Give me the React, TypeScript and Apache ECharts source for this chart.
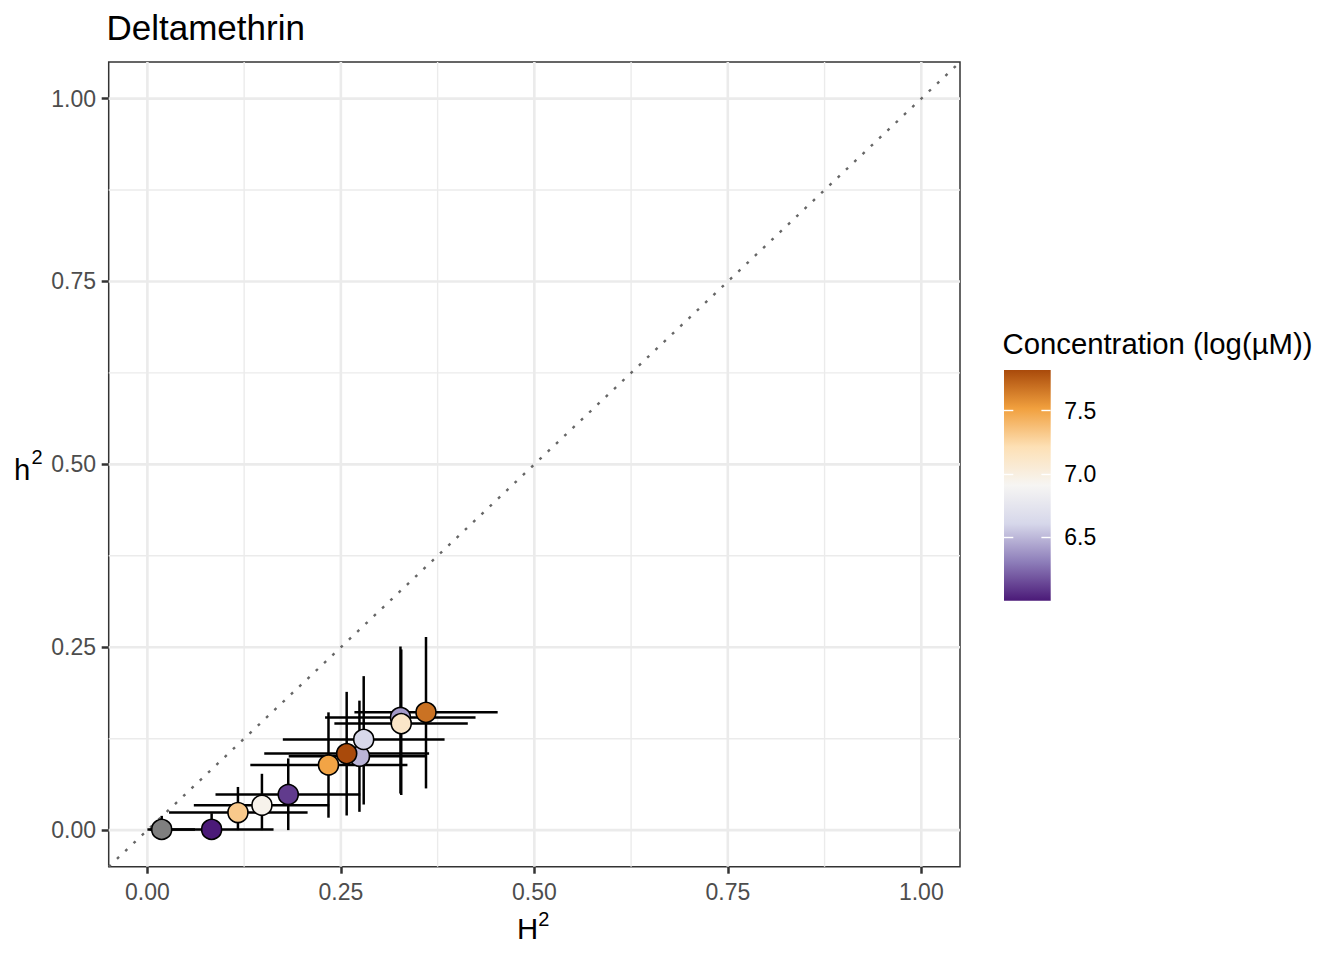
import React, { useEffect, useRef } from "react";
import * as echarts from "echarts";

// ---- data ----
const H2 = [0.0185, 0.083, 0.117, 0.148, 0.182, 0.234, 0.274, 0.2795, 0.2575, 0.327, 0.328, 0.36];
const h2 = [0.001, 0.001, 0.024, 0.034, 0.0487, 0.089, 0.101, 0.124, 0.1046, 0.154, 0.1456, 0.161];
const H2_LO = [0, 0.003, 0.028, 0.06, 0.088, 0.133, 0.1826, 0.175, 0.151, 0.2296, 0.2416, 0.2675];
const H2_HI = [0.0615, 0.163, 0.207, 0.235, 0.275, 0.336, 0.36, 0.384, 0.364, 0.424, 0.414, 0.4526];
const h2_LO = [0, 0, 0, 0, 0, 0.017, 0.025, 0.035, 0.02, 0.05, 0.048, 0.057];
const h2_HI = [0.0195, 0.023, 0.059, 0.077, 0.098, 0.161, 0.177, 0.2105, 0.189, 0.251, 0.247, 0.264];
const CONC: (number | null)[] = [null, 6.0, 7.32, 6.95, 6.1, 7.5, 6.49, 6.62, 7.82, 6.4, 7.12, 7.68];

const AXIS_TICKS = [0, 0.25, 0.5, 0.75, 1];
const MINOR_GRID = [0.125, 0.375, 0.625, 0.875];
const AXIS_MIN = -0.05;
const AXIS_MAX = 1.05;

const CONC_MIN = 6.0;
const CONC_MAX = 7.82;
const LEGEND_TICKS = [6.5, 7.0, 7.5];
const PALETTE = ["#4b1a78", "#8d7db9", "#d6d7ea", "#f6f5f3", "#fde0b5", "#f1a03e", "#a94a0b"];
const NA_COLOR = "#7f7f7f";

const FONT = "'Liberation Sans', Arial, Helvetica, sans-serif";

export default function App() {
  const ref = useRef<HTMLDivElement>(null);

  useEffect(() => {
    if (!ref.current) return;
    const chart = echarts.init(ref.current, null, { renderer: "svg", width: 1344, height: 960 });

    const gridData = [
      ...AXIS_TICKS.map((v) => [v, 0, 1, 1]),
      ...MINOR_GRID.map((v) => [v, 0, 0, 1]),
      ...AXIS_TICKS.map((v) => [0, v, 1, 0]),
      ...MINOR_GRID.map((v) => [0, v, 0, 0]),
    ];

    const errData = H2.map((x, i) => [x, h2[i], H2_LO[i], H2_HI[i], h2_LO[i], h2_HI[i]]);
    const ptsData: number[][] = [];
    const naData: number[][] = [];
    H2.forEach((x, i) => {
      if (CONC[i] == null) naData.push([x, h2[i]]);
      else ptsData.push([x, h2[i], CONC[i] as number]);
    });

    const stops = PALETTE.map((c, i) => ({ offset: 1 - i / (PALETTE.length - 1), color: c })).sort(
      (a, b) => a.offset - b.offset
    );

    const tickLabelStyle = { color: "#4d4d4d", fontSize: 23, fontFamily: FONT };

    const option: any = {
      animation: false,
      backgroundColor: "#ffffff",
      grid: [
        {
          left: 108.7,
          top: 62,
          width: 851.3,
          height: 804.7,
          show: true,
          borderColor: "#333333",
          borderWidth: 1.5,
          backgroundColor: "#ffffff",
        },
        { left: 1004, top: 370, width: 46.7, height: 230.7 },
      ],
      xAxis: [
        {
          type: "value",
          gridIndex: 0,
          position: "bottom",
          min: AXIS_MIN,
          max: AXIS_MAX,
          axisLine: { show: false, onZero: false },
          splitLine: { show: false },
          axisTick: { show: true, length: 7, customValues: AXIS_TICKS, lineStyle: { color: "#333333", width: 2.5 } },
          axisLabel: {
            customValues: AXIS_TICKS,
            formatter: (v: number) => v.toFixed(2),
            margin: 13.3,
            ...tickLabelStyle,
          },
        },
        { type: "value", gridIndex: 1, min: 0, max: 1, show: false },
      ],
      yAxis: [
        {
          type: "value",
          gridIndex: 0,
          position: "left",
          min: AXIS_MIN,
          max: AXIS_MAX,
          axisLine: { show: false, onZero: false },
          splitLine: { show: false },
          axisTick: { show: true, length: 7, customValues: AXIS_TICKS, lineStyle: { color: "#333333", width: 2.5 } },
          axisLabel: {
            customValues: AXIS_TICKS,
            formatter: (v: number) => v.toFixed(2),
            margin: 12.7,
            ...tickLabelStyle,
          },
        },
        {
          type: "value",
          gridIndex: 1,
          position: "right",
          min: CONC_MIN,
          max: CONC_MAX,
          z: 10,
          axisLine: { show: false, onZero: false },
          splitLine: { show: false },
          axisTick: {
            show: true,
            inside: true,
            length: 9.3,
            customValues: LEGEND_TICKS,
            lineStyle: { color: "#ffffff", width: 1.4 },
          },
          axisLabel: {
            customValues: LEGEND_TICKS,
            formatter: (v: number) => v.toFixed(1),
            margin: 13.6,
            color: "#000000",
            fontSize: 23,
            fontFamily: FONT,
          },
        },
        {
          type: "value",
          gridIndex: 1,
          position: "left",
          min: CONC_MIN,
          max: CONC_MAX,
          z: 10,
          axisLine: { show: false, onZero: false },
          splitLine: { show: false },
          axisLabel: { show: false },
          axisTick: {
            show: true,
            inside: true,
            length: 9.3,
            customValues: LEGEND_TICKS,
            lineStyle: { color: "#ffffff", width: 1.4 },
          },
        },
      ],
      visualMap: {
        type: "continuous",
        show: false,
        min: CONC_MIN,
        max: CONC_MAX,
        dimension: 2,
        seriesIndex: 3,
        inRange: { color: PALETTE },
      },
      series: [
        {
          type: "custom",
          xAxisIndex: 0,
          yAxisIndex: 0,
          z: 1,
          silent: true,
          data: gridData,
          renderItem: (params: any, api: any) => {
            const vx = api.value(0);
            const vy = api.value(1);
            const major = api.value(2) === 1;
            const vertical = api.value(3) === 1;
            const p1 = vertical ? api.coord([vx, AXIS_MIN]) : api.coord([AXIS_MIN, vy]);
            const p2 = vertical ? api.coord([vx, AXIS_MAX]) : api.coord([AXIS_MAX, vy]);
            return {
              type: "line",
              shape: { x1: p1[0], y1: p1[1], x2: p2[0], y2: p2[1] },
              style: { stroke: "#ebebeb", lineWidth: major ? 2.6 : 1.4 },
            };
          },
        },
        {
          type: "line",
          xAxisIndex: 0,
          yAxisIndex: 0,
          z: 2,
          silent: true,
          symbol: "none",
          data: [
            [AXIS_MIN, AXIS_MIN],
            [AXIS_MAX, AXIS_MAX],
          ],
          lineStyle: { color: "#666666", width: 2.4, type: [2.8, 8.6] },
        },
        {
          type: "custom",
          xAxisIndex: 0,
          yAxisIndex: 0,
          z: 3,
          silent: true,
          encode: { x: [0, 2, 3], y: [1, 4, 5] },
          data: errData,
          renderItem: (params: any, api: any) => {
            const x = api.value(0);
            const y = api.value(1);
            const a = api.coord([api.value(2), y]);
            const b = api.coord([api.value(3), y]);
            const c = api.coord([x, api.value(4)]);
            const d = api.coord([x, api.value(5)]);
            return {
              type: "group",
              children: [
                { type: "line", shape: { x1: a[0], y1: a[1], x2: b[0], y2: b[1] }, style: { stroke: "#000000", lineWidth: 2.5 } },
                { type: "line", shape: { x1: c[0], y1: c[1], x2: d[0], y2: d[1] }, style: { stroke: "#000000", lineWidth: 2.5 } },
              ],
            };
          },
        },
        {
          type: "scatter",
          xAxisIndex: 0,
          yAxisIndex: 0,
          z: 4,
          silent: true,
          symbol: "circle",
          symbolSize: 20,
          data: ptsData,
          itemStyle: { borderColor: "#000000", borderWidth: 1.6, opacity: 1 },
        },
        {
          type: "scatter",
          xAxisIndex: 0,
          yAxisIndex: 0,
          z: 4,
          silent: true,
          symbol: "circle",
          symbolSize: 20,
          data: naData,
          itemStyle: { color: NA_COLOR, borderColor: "#000000", borderWidth: 1.6, opacity: 1 },
        },
        {
          type: "custom",
          xAxisIndex: 1,
          yAxisIndex: 1,
          z: 1,
          silent: true,
          data: [[0, CONC_MIN]],
          renderItem: (params: any, api: any) => {
            const p1 = api.coord([0, CONC_MAX]);
            const p2 = api.coord([1, CONC_MIN]);
            return {
              type: "rect",
              shape: { x: p1[0], y: p1[1], width: p2[0] - p1[0], height: p2[1] - p1[1] },
              style: { fill: new echarts.graphic.LinearGradient(0, 0, 0, 1, stops) },
            };
          },
        },
      ],
      graphic: [
        {
          type: "text",
          x: 106.5,
          y: 27.2,
          style: { text: "Deltamethrin", fontSize: 35, fontFamily: FONT, fill: "#000000", align: "left", verticalAlign: "middle" },
        },
        {
          type: "text",
          x: 517,
          y: 928.8,
          style: { text: "H", fontSize: 29.3, fontFamily: FONT, fill: "#000000", align: "left", verticalAlign: "middle" },
        },
        {
          type: "text",
          x: 538.3,
          y: 919.1,
          style: { text: "2", fontSize: 20, fontFamily: FONT, fill: "#000000", align: "left", verticalAlign: "middle" },
        },
        {
          type: "text",
          x: 14,
          y: 469.8,
          style: { text: "h", fontSize: 29.3, fontFamily: FONT, fill: "#000000", align: "left", verticalAlign: "middle" },
        },
        {
          type: "text",
          x: 31.5,
          y: 457.4,
          style: { text: "2", fontSize: 20, fontFamily: FONT, fill: "#000000", align: "left", verticalAlign: "middle" },
        },
        {
          type: "text",
          x: 1002.5,
          y: 343.1,
          style: {
            text: "Concentration (log(\u00b5M))",
            fontSize: 29.3,
            fontFamily: FONT,
            fill: "#000000",
            align: "left",
            verticalAlign: "middle",
          },
        },
      ],
    };

    chart.setOption(option);
    return () => chart.dispose();
  }, []);

  return (
    <div
      ref={ref}
      style={{ position: "absolute", left: 0, top: 0, width: 1344, height: 960, background: "#ffffff" }}
    />
  );
}
